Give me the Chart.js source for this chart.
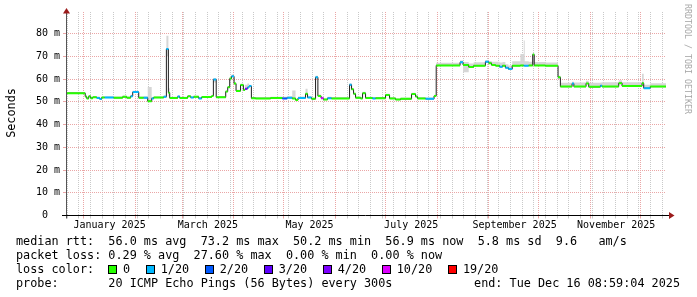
<!DOCTYPE html>
<html><head><meta charset="utf-8">
<script src="https://cdn.jsdelivr.net/npm/chart.js@4/dist/chart.umd.min.js"></script>
<style>
html,body{margin:0;padding:0;background:#fff;}
#wrap{position:relative;width:697px;height:297px;overflow:hidden;background:#fff;}
#c{position:absolute;left:0;top:0;}
.t{position:absolute;font-family:'DejaVu Sans Mono',monospace;font-size:11.8px;line-height:14px;white-space:pre;color:#000;}
#ylab{left:-20px;top:106px;width:62px;text-align:center;transform:rotate(-90deg);transform-origin:50% 50%;}
#rrd{position:absolute;left:628px;top:54px;width:120px;text-align:center;font-family:'DejaVu Sans Mono',monospace;font-size:8.3px;line-height:10px;white-space:pre;color:#a8a8a8;transform:rotate(90deg);transform-origin:50% 50%;}
#lossLegend{position:absolute;left:108px;top:262px;height:14px;display:flex;align-items:center;font-family:'DejaVu Sans Mono',monospace;font-size:11.8px;line-height:14px;white-space:pre;}
#lossLegend .b{display:inline-block;width:9px;height:9px;box-sizing:border-box;border:1px solid #000;margin-right:6px;}
#lossLegend .l{margin-right:15.6px;}
</style></head>
<body>
<div id="wrap">
<canvas id="c" width="697" height="297"></canvas>
<div class="t" id="ylab">Seconds</div>
<div id="rrd">RRDTOOL / TOBI OETIKER</div>
<div class="t" style="left:16px;top:234px">median rtt:  56.0 ms avg  73.2 ms max  50.2 ms min  56.9 ms now  5.8 ms sd  9.6   am/s</div>
<div class="t" style="left:16px;top:248px">packet loss: 0.29 % avg  27.60 % max  0.00 % min  0.00 % now</div>
<div class="t" style="left:16px;top:262px">loss color:</div>
<div id="lossLegend"></div>
<div class="t" style="left:16px;top:276px">probe:       20 ICMP Echo Pings (56 Bytes) every 300s</div>
<div class="t" style="right:17px;top:276px">end: Tue Dec 16 08:59:04 2025</div>
</div>
<script>
// ---- axis definitions (days since 2025-01-01) ----
const xMin = -10.63, xMax = 349.37;
const firstGridSunday = -10;
const monthStartDays = [0,31,59,90,120,151,181,212,243,273,304,334];
const monthLabelDays = [15.5,74.5,135.5,196.5,258.5,319.5];
const monthLabels = ['January 2025','March 2025','May 2025','July 2025','September 2025','November 2025'];
const yTickValues = [0,5,10,15,20,25,30,35,40,45,50,55,60,65,70,75,80,85];
const yTickLabels = ['0  ','','10 m','','20 m','','30 m','','40 m','','50 m','','60 m','','70 m','','80 m',''];

// ---- loss legend ----
const lossLevels = [0,1,2,3,4,10,19];
const lossNames = ['0','1/20','2/20','3/20','4/20','10/20','19/20'];
const lossColors = ['#26ff00','#00b8ff','#0059ff','#5e00ff','#7e00ff','#dd00ff','#ff0000'];

// ---- data: step start day, median rtt (ms), lost pings, smoke range (ms) ----
const stepDays = [-10.63,0.9,1.8,3.0,4.2,5.4,7.8,9.6,10.8,12.6,
 18.0,23.4,25.8,28.2,29.4,33.0,36.0,38.4,40.8,42.0,
 48.0,49.6,50.8,51.6,56.4,57.6,62.4,64.2,66.0,69.0,
 70.8,76.8,77.8,79.5,85.2,86.4,87.6,88.7,90.2,91.4,
 94.1,95.8,96.8,98.2,99.2,100.6,103.1,112.1,119.2,122.1,
 125.1,127.1,128.6,133.1,134.3,136.7,139.1,140.5,142.4,143.9,
 146.3,148.7,159.5,160.7,161.9,163.1,166.1,167.3,169.1,173.3,
 175.1,181.1,183.5,187.1,190.1,196.7,199.1,200.3,205.1,210.2,
 211.5,225.8,227.6,231.0,234.0,241.0,243.0,244.7,247.1,249.5,
 251.3,253.0,254.8,257.1,262.0,264.0,264.6,267.0,269.4,270.3,
 277.0,284.6,286.0,293.0,294.1,301.4,303.0,310.0,311.0,321.0,
 323.0,335.0,336.0,339.9];
const medianMs = [53.8,52.3,51.5,52.4,51.6,52.0,51.7,51.2,51.9,51.9,
 51.8,52.2,51.8,52.5,54.3,51.8,51.8,50.3,51.5,51.9,
 52.2,73.2,54.0,51.7,52.3,51.7,52.4,51.9,52.2,51.5,
 52.1,52.6,59.8,52.0,54.5,56.4,60.2,61.2,58.0,54.8,
 57.4,55.2,55.7,56.3,56.9,51.6,51.5,51.7,51.5,51.8,
 51.5,50.8,51.7,53.5,51.9,51.3,60.8,52.6,51.6,51.0,
 51.6,51.5,57.5,55.5,53.5,51.8,51.5,53.8,51.7,51.5,
 51.6,53.0,51.5,51.0,51.3,53.4,52.3,51.5,51.3,52.6,
 66.0,67.4,66.2,65.3,65.9,67.6,67.0,66.2,65.9,65.4,
 65.9,65.0,64.4,65.9,66.0,65.9,65.9,66.0,70.8,66.0,
 65.9,60.8,56.7,58.0,56.7,58.1,56.6,57.1,56.7,58.2,
 56.9,58.2,56.0,56.7];
const lossCount = [0,0,0,0,0,0,1,1,0,1,
 0,0,0,1,1,0,1,0,1,0,
 1,1,0,0,1,0,0,1,0,1,
 0,0,1,0,0,0,0,1,0,0,
 0,0,4,1,1,0,0,0,2,1,
 0,0,1,0,1,0,1,0,10,0,
 1,0,1,0,0,0,0,0,0,1,
 0,0,0,0,0,0,0,0,1,0,
 0,1,0,0,0,1,0,0,0,1,
 0,1,1,0,0,1,1,0,0,0,
 0,0,0,1,0,0,0,1,0,0,
 0,0,1,0];
const smokeLowMs = [53.5,52.0,51.2,52.0,51.3,51.7,51.4,50.9,51.6,51.6,
 51.5,51.9,51.5,52.2,53.9,51.5,51.5,50.0,51.2,51.6,
 51.9,70.0,52.5,51.4,52.0,51.4,52.1,51.6,51.9,51.2,
 51.8,52.3,58.5,51.7,54.2,56.1,59.8,60.8,57.6,54.5,
 57.0,54.9,55.3,55.9,56.5,51.3,51.2,51.4,51.2,51.5,
 51.2,50.5,51.4,53.1,51.6,51.0,60.0,52.2,51.3,50.7,
 51.3,51.2,57.0,55.2,53.2,51.5,51.2,53.4,51.4,51.2,
 51.3,52.7,51.2,50.7,51.0,53.0,52.0,51.2,51.0,52.3,
 65.7,66.8,63.0,65.0,65.6,67.2,66.7,65.9,65.6,65.1,
 65.6,64.7,64.1,65.6,65.7,65.6,65.6,65.7,66.0,65.7,
 65.6,60.0,56.4,57.6,56.4,57.8,56.3,56.8,56.4,57.8,
 56.6,57.8,55.7,56.4];
const smokeHighMs = [54.2,52.8,52.0,52.9,52.1,52.5,52.3,51.8,52.4,52.5,
 52.3,52.7,52.3,53.1,54.9,52.3,52.4,56.5,52.1,52.4,
 52.8,79.0,56.0,52.2,52.9,52.2,52.9,52.5,52.7,52.1,
 52.6,53.1,60.5,52.5,55.0,56.9,60.8,62.0,58.6,55.3,
 58.0,55.7,57.5,58.0,57.5,52.1,52.0,52.2,52.2,52.4,
 55.0,51.3,52.3,55.8,52.5,51.8,61.5,53.2,52.2,51.5,
 52.2,52.0,58.2,56.0,54.0,52.3,52.0,54.4,52.2,52.1,
 52.1,53.5,52.0,51.5,51.8,54.0,52.8,52.0,51.9,53.1,
 67.2,68.2,67.5,66.8,67.4,68.4,68.0,67.6,67.6,67.3,
 67.5,66.5,66.0,67.8,71.0,77.0,67.8,67.6,71.2,67.5,
 67.3,61.5,58.4,58.8,58.5,59.3,58.4,58.5,58.6,59.5,
 58.6,62.3,57.5,58.2];

// ---- legend boxes ----
const lg = document.getElementById('lossLegend');
lossNames.forEach((n,i)=>{
  const b=document.createElement('span'); b.className='b'; b.style.background=lossColors[i]; lg.appendChild(b);
  const l=document.createElement('span'); l.className='l'; l.textContent=n; lg.appendChild(l);
});

const lossColorFor = n => { let c = lossColors[0]; lossLevels.forEach((lv,i)=>{ if (n >= lv) c = lossColors[i]; }); return c; };
const stepPts = arr => stepDays.map((d,i)=>({x:d,y:arr[i]})).concat([{x:xMax,y:arr[arr.length-1]}]);
const colPts = [], colCol = [];
stepDays.forEach((d,i)=>{
  const xe = i+1 < stepDays.length ? stepDays[i+1] : xMax;
  colPts.push({x:d,y:medianMs[i]},{x:xe,y:medianMs[i]},{x:xe,y:null});
  colCol.push(lossColorFor(lossCount[i]));
});

const MINOR = '#c9c9c9', MAJOR = '#eaa6a6', NONE = 'rgba(0,0,0,0)';
const axisPlugin = {
  id:'rrdAxes',
  afterDraw(chart){
    const {ctx, chartArea:a} = chart;
    ctx.save();
    const yb = Math.floor(a.bottom)+0.5, xl = Math.floor(a.left)+0.5;
    ctx.lineWidth = 1;
    ctx.strokeStyle = '#555';
    ctx.beginPath(); ctx.moveTo(xl, a.bottom+3); ctx.lineTo(xl, 13); ctx.stroke();
    ctx.strokeStyle = '#000';
    ctx.beginPath(); ctx.moveTo(62, yb); ctx.lineTo(669, yb); ctx.stroke();
    ctx.fillStyle = '#9b1b1b';
    ctx.beginPath(); ctx.moveTo(xl-3.5, 13.5); ctx.lineTo(xl, 8); ctx.lineTo(xl+3.5, 13.5); ctx.closePath(); ctx.fill();
    ctx.beginPath(); ctx.moveTo(669, yb-3.5); ctx.lineTo(674.5, yb); ctx.lineTo(669, yb+3.5); ctx.closePath(); ctx.fill();
    ctx.restore();
  }
};

const monoTick = {family:'DejaVu Sans Mono', size:10};
new Chart(document.getElementById('c'), {
  type:'line',
  data:{datasets:[
    {label:'median by loss', data:colPts, borderColor:lossColors[0], borderWidth:2, pointRadius:0, spanGaps:false, tension:0, borderCapStyle:'butt',
      segment:{borderColor: c => colCol[Math.floor(c.p0DataIndex/3)]}},
    {label:'median', data:stepPts(medianMs), stepped:'before', borderColor:'#202020', borderWidth:1, pointRadius:0, fill:false},
    {label:'smoke low', data:stepPts(smokeLowMs), stepped:'before', borderWidth:0, borderColor:NONE, pointRadius:0, fill:false},
    {label:'smoke high', data:stepPts(smokeHighMs), stepped:'before', borderWidth:0, borderColor:NONE, pointRadius:0, fill:'-1', backgroundColor:'#d6d6d6'}
  ]},
  options:{
    responsive:false, animation:false, devicePixelRatio:1,
    layout:{padding:{left:0,right:31,top:12,bottom:61.5}},
    plugins:{legend:{display:false}, tooltip:{enabled:false}},
    scales:{
      x:{type:'linear', min:xMin, max:xMax,
        afterBuildTicks: s => {
          const t = [];
          for (let d = firstGridSunday; d <= xMax; d += 7) t.push({value:d, kind:'w'});
          monthStartDays.forEach(d => t.push({value:d, kind:'m'}));
          monthLabelDays.forEach((d,i) => t.push({value:d, kind:'l', lbl:monthLabels[i]}));
          t.sort((p,q)=>p.value-q.value);
          s.ticks = t;
        },
        afterFit: s => { s.height = 20; },
        grid:{color: c => { const k = c.tick && c.tick.kind; return k==='m' ? MAJOR : (k==='w' ? MINOR : NONE); }, lineWidth:1, tickLength:3},
        border:{display:false, dash:[1,1]},
        ticks:{autoSkip:false, maxRotation:0, minRotation:0, padding:1, font:monoTick, color:'#000',
          callback:(v,i,t) => (t[i] && t[i].lbl) || ''}
      },
      y:{min:0, max:89.5,
        afterBuildTicks: s => { s.ticks = yTickValues.map(v => ({value:v})); },
        afterFit: s => { s.width = 66; },
        grid:{color: c => (c.tick && c.tick.value % 10 === 0) ? MAJOR : MINOR, lineWidth:1, tickLength:3},
        border:{display:false, dash:[1,1]},
        ticks:{padding:3, font:monoTick, color:'#000', callback:(v,i) => yTickLabels[i]}
      }
    }
  },
  plugins:[axisPlugin]
});
</script>
</body></html>
